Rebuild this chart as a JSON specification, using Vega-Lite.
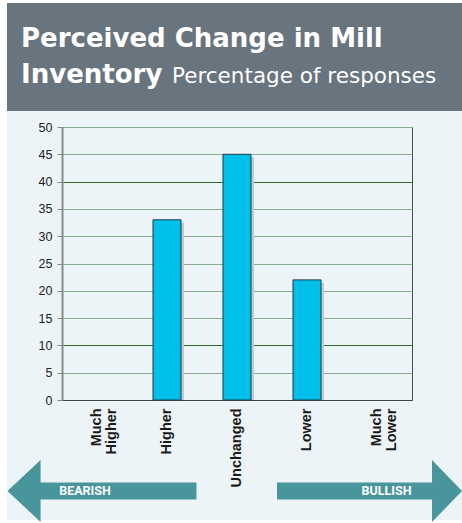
{
  "$schema": "https://vega.github.io/schema/vega-lite/v6.json",
  "width": 350,
  "height": 273,
  "autosize": {"type": "none"},
  "padding": {"left": 62, "top": 127, "right": 50, "bottom": 123},
  "background": "#edf4f7",
  "config": {"view": {"stroke": "#4a4a4a", "strokeWidth": 1}, "font": "Liberation Sans"},
  "data": {"values": [
    {"response": "Much Higher", "percent": 0},
    {"response": "Higher", "percent": 33},
    {"response": "Unchanged", "percent": 45},
    {"response": "Lower", "percent": 22},
    {"response": "Much Lower", "percent": 0}
  ]},
  "layer": [
    {"data": {"values": [{}]}, "mark": {"type": "rect", "x": -62, "x2": -55, "y": -127, "y2": 396, "fill": "#ffffff"}, "encoding": {}},
    {"data": {"values": [{}]}, "mark": {"type": "rect", "x": -62, "x2": 400, "y": 393, "y2": 396, "fill": "#ffffff"}, "encoding": {}},
    {"data": {"values": [{}]}, "mark": {"type": "rect", "x": -62, "x2": 400, "y": -127, "y2": -124, "fill": "#ffffff"}, "encoding": {}},
    {"data": {"values": [{}]}, "mark": {"type": "rect", "x": -55, "x2": 400, "y": -124, "y2": -16, "fill": "#68747e"}, "encoding": {}},
    {"data": {"values": [{}]}, "mark": {"type": "text", "x": -41, "y": -80, "text": "Perceived Change in Mill", "align": "left", "baseline": "alphabetic", "font": "DejaVu Sans", "fontWeight": "bold", "fontSize": 26, "color": "#ffffff"}, "encoding": {}},
    {"data": {"values": [{}]}, "mark": {"type": "text", "x": -41, "y": -44, "text": "Inventory", "align": "left", "baseline": "alphabetic", "font": "DejaVu Sans", "fontWeight": "bold", "fontSize": 26, "color": "#ffffff"}, "encoding": {}},
    {"data": {"values": [{}]}, "mark": {"type": "text", "x": 110, "y": -44, "text": "Percentage of responses", "align": "left", "baseline": "alphabetic", "font": "DejaVu Sans", "fontWeight": "normal", "fontSize": 21.5, "color": "#ffffff"}, "encoding": {}},
    {"data": {"values": [{}]}, "mark": {"type": "point", "x": 40, "y": 364, "size": 35721, "filled": true, "opacity": 1, "strokeWidth": 0, "color": "#48959c", "shape": "M -1 0 L -0.65 -0.328 L -0.65 -0.09 L 1 -0.09 L 1 0.09 L -0.65 0.09 L -0.65 0.328 Z"}, "encoding": {}},
    {"data": {"values": [{}]}, "mark": {"type": "point", "x": 307.5, "y": 364, "size": 34225, "filled": true, "opacity": 1, "strokeWidth": 0, "color": "#48959c", "shape": "M 1 0 L 0.676 -0.335 L 0.676 -0.092 L -1 -0.092 L -1 0.092 L 0.676 0.092 L 0.676 0.335 Z"}, "encoding": {}},
    {"data": {"values": [{}]}, "mark": {"type": "text", "x": 23, "y": 364, "text": "BEARISH", "align": "center", "baseline": "middle", "font": "Roboto", "fontWeight": "bold", "fontSize": 12.5, "color": "#ffffff"}, "encoding": {}},
    {"data": {"values": [{}]}, "mark": {"type": "text", "x": 324.5, "y": 364, "text": "BULLISH", "align": "center", "baseline": "middle", "font": "Roboto", "fontWeight": "bold", "fontSize": 12.5, "color": "#ffffff"}, "encoding": {}},
    {
      "encoding": {
        "x": {
          "field": "response", "type": "nominal", "sort": null,
          "scale": {"paddingInner": 0.6, "paddingOuter": 0.3},
          "axis": {
            "title": null, "labelAngle": -90, "labelExpr": "split(datum.label, ' ')",
            "labelFont": "Liberation Sans", "labelFontWeight": "bold", "labelFontSize": 14.5,
            "labelColor": "#1a1a1a", "labelLineHeight": 15, "ticks": false, "tickSize": 0,
            "labelPadding": 8, "domainColor": "#444444", "domainWidth": 1
          }
        },
        "y": {
          "field": "percent", "type": "quantitative",
          "scale": {"domain": [0, 50], "nice": false},
          "axis": {
            "title": null, "values": [0, 5, 10, 15, 20, 25, 30, 35, 40, 45, 50],
            "grid": true,
            "gridColor": {"condition": {"test": "datum.value === 10 || datum.value === 40", "value": "#2f6b2f"}, "value": "#86ad88"},
            "gridWidth": 1,
            "tickSize": 5, "tickColor": "#8a8a8a", "domainColor": "#8a8a8a", "domainWidth": 2,
            "labelFontSize": 12.5, "labelColor": "#222222", "labelPadding": 5, "labelFont": "Liberation Sans"
          }
        }
      },
      "layer": [
        {"mark": {"type": "bar", "xOffset": 3, "yOffset": 3, "color": "#c3c8cb", "clip": true}},
        {"mark": {"type": "bar", "fill": "#00c0eb", "strokeWidth": 1},
         "encoding": {"stroke": {"condition": {"test": "datum.percent > 0", "value": "#1d3a48"}, "value": null}}}
      ]
    }
  ]
}
